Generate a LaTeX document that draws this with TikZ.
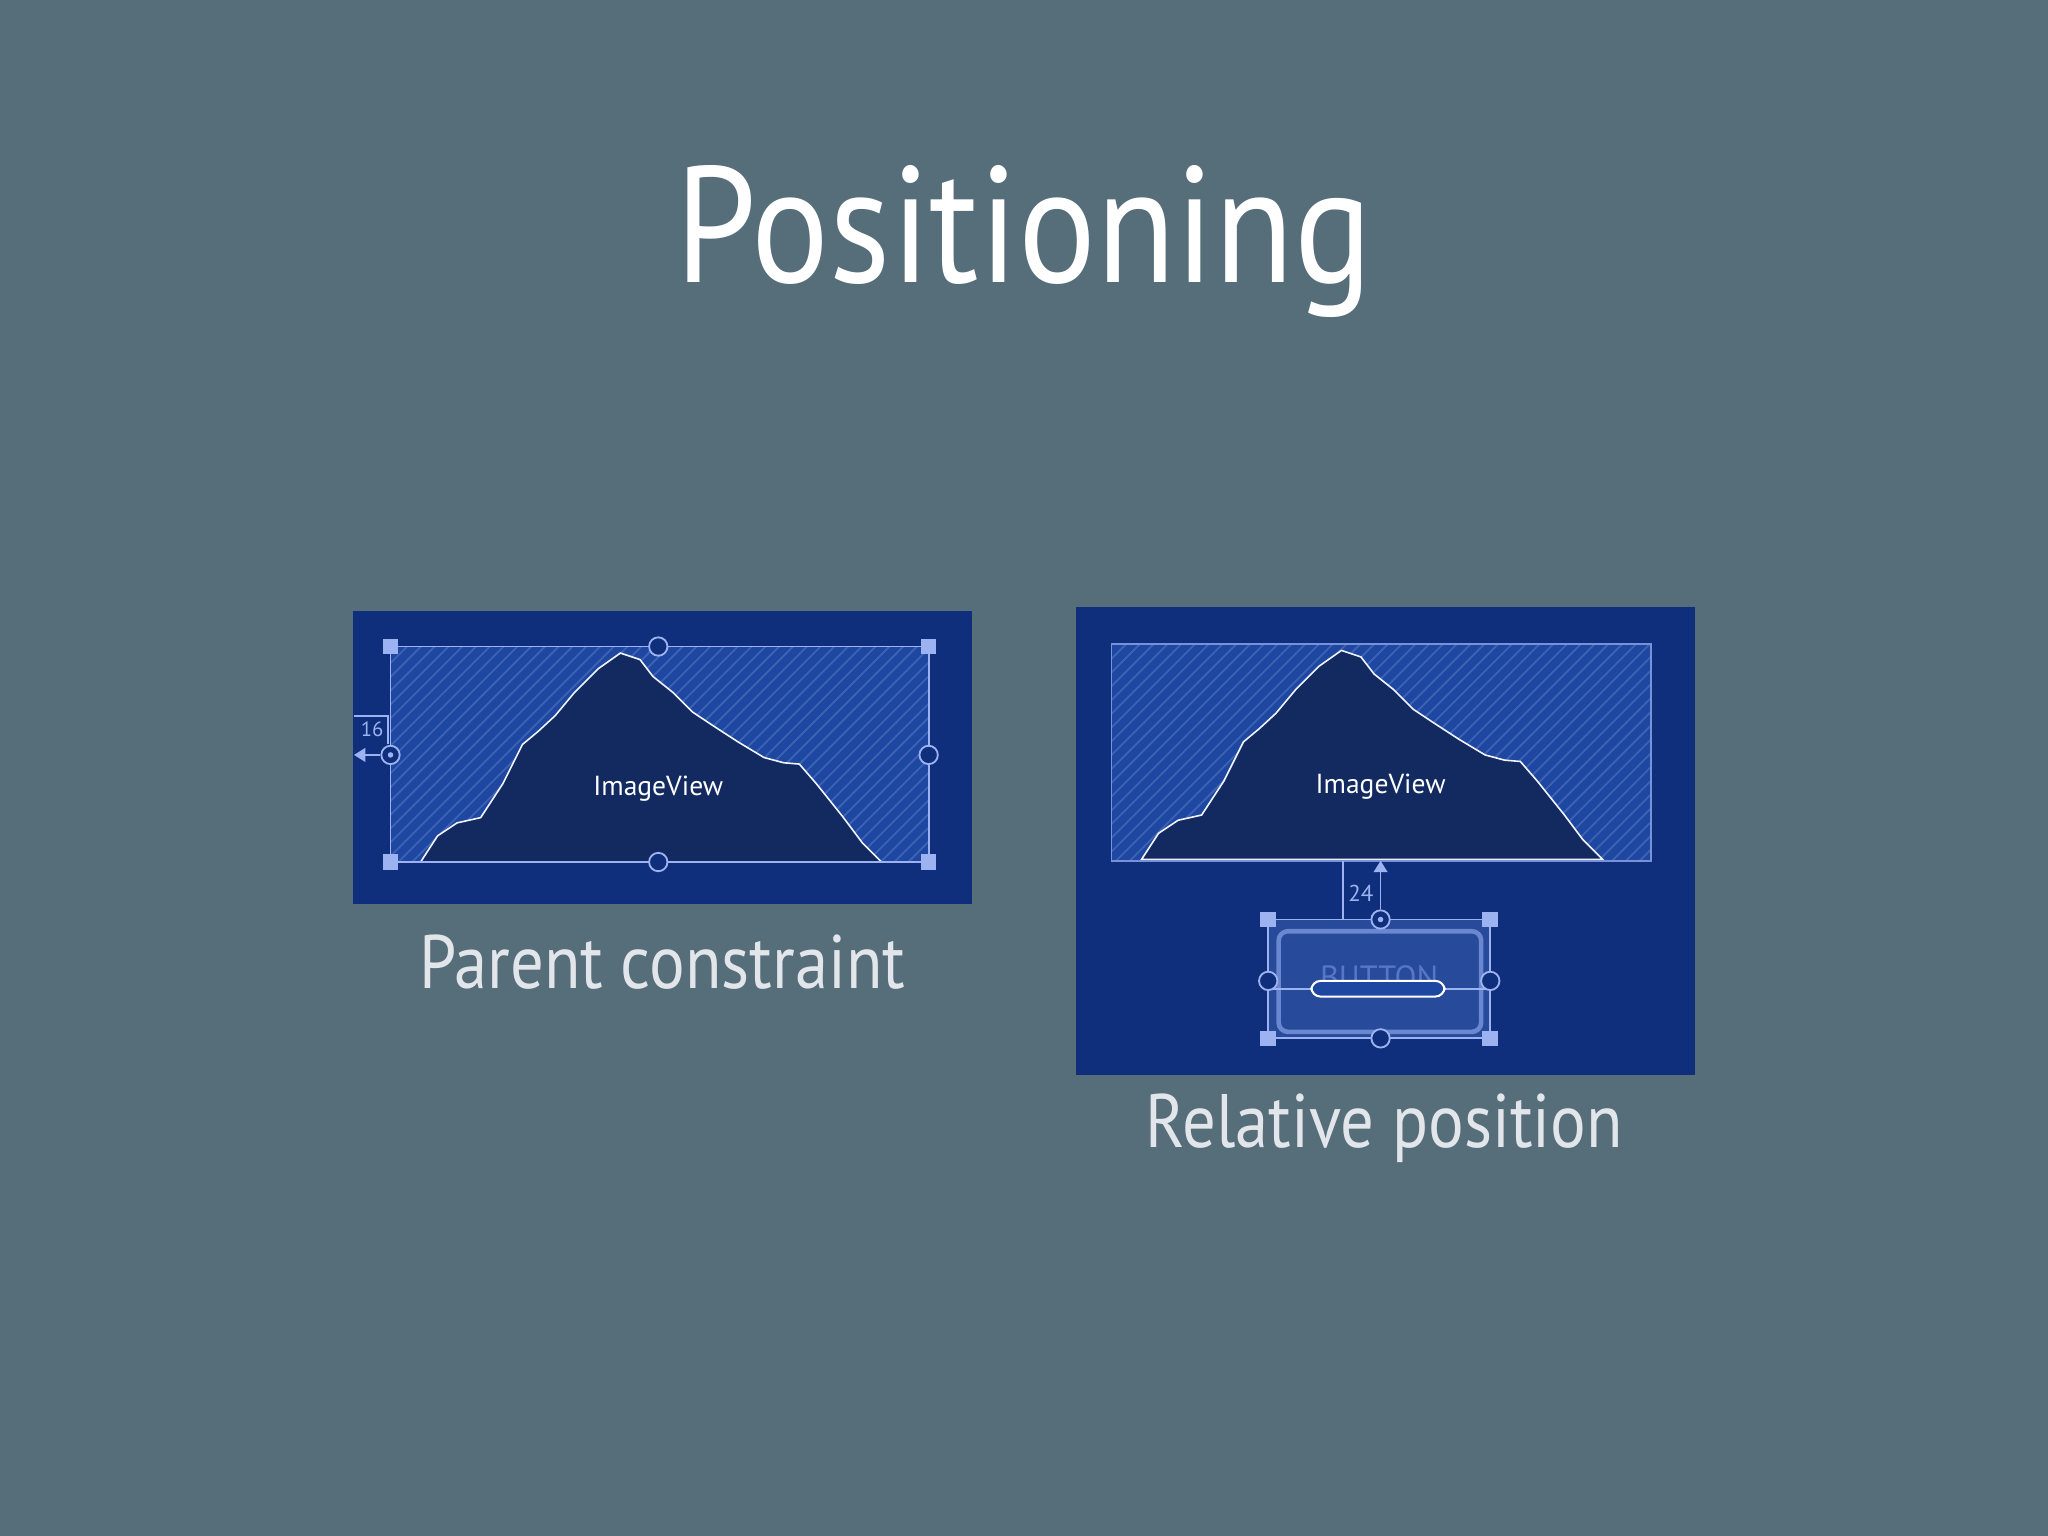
\documentclass[tikz,border=0pt]{standalone}
\usepackage{fontspec}
\setmainfont{PT Sans}
\usetikzlibrary{patterns,arrows.meta}
\definecolor{bg}{HTML}{566D7A}
\definecolor{panel}{HTML}{0F2F7C}
\definecolor{inner}{HTML}{1D47A0}
\definecolor{mount}{HTML}{132A60}
\definecolor{sel}{HTML}{9DB2F0}
\definecolor{cap}{HTML}{E2E6EA}
\tikzset{
 hnd/.style={fill=sel,draw=none,minimum size=3.4pt,inner sep=0pt},
 crc/.style={circle,draw=sel,fill=panel,line width=0.4pt,minimum size=4pt,inner sep=0pt},
 selline/.style={draw=sel,line width=0.4pt},
 mtn/.style={fill=mount,draw=white!85!sel,line width=0.35pt},
 iv/.style={text=white,font=\fontsize{6}{6}\selectfont},
 capt/.style={text=cap,font=\fontsize{16.5}{16.5}\selectfont,xscale=0.88}
}
\newcommand{\mountainpath}{(322,660) -- (335,640) -- (350,630) -- (368,626) -- (385,600) -- (400,570) -- (412,560) -- (425,548) -- (440,530) -- (458,512) -- (475,500) -- (490,505) -- (500,518) -- (515,530) -- (530,545) -- (545,555) -- (565,568) -- (585,580) -- (600,584) -- (612,585) -- (625,600) -- (645,625) -- (660,645) -- (675,660) -- cycle}
\begin{document}
\begin{tikzpicture}[x=0.01cm,y=-0.01cm]
\fill[bg] (0,0) rectangle (1568,1176);
\node[text=white,font=\fontsize{36}{36}\selectfont,xscale=0.88] (title) at (784,185) {Positioning};
% left panel
\fill[panel] (270,468) rectangle (744,692);
\fill[inner] (299,495) rectangle (711,660);
\fill[pattern=north east lines,pattern color=sel!25!inner] (299,495) rectangle (711,660);
\draw[mtn] \mountainpath;
\node[iv] (iv1) at (504,604) {ImageView};
\draw[selline] (299,495) rectangle (711,660);
\foreach \p/\n in {{(299,495)}/a,{(711,495)}/b,{(299,660)}/c,{(711,660)}/d}{\node[hnd] (L\n) at \p {};}
\node[crc] (lt) at (504,495) {}; \node[crc] (lb) at (504,660) {};
\node[crc] (ll) at (299,578) {}; \node[crc] (lr) at (711,578) {};
\fill[sel] (ll) circle (0.6pt);
\coordinate (lp) at (271,578);
\draw[selline,-{Triangle[length=2.5pt,width=3pt]}] (ll) -- (lp);
\draw[selline] (271,548) -- (297,548) -- (297,570);
\node[text=sel,font=\fontsize{4.5}{4.5}\selectfont] (l16) at (285,558) {16};
\node[capt] (c1) at (507,737) {Parent constraint};
% right panel
\fill[panel] (824,465) rectangle (1298,823);
\fill[inner] (851,493) rectangle (1264,659);
\fill[pattern=north east lines,pattern color=sel!25!inner] (851,493) rectangle (1264,659);
\begin{scope}[shift={(552,-2)}]
\draw[mtn] \mountainpath;
\end{scope}
\draw[draw=sel!70!inner,line width=0.4pt] (851,493) rectangle (1264,659);
\node[iv] (iv2) at (1057,602) {ImageView};
% button
\fill[inner!80!sel,opacity=0.6] (971,704) rectangle (1141,795);
\draw[draw=sel!60!inner,line width=1pt,rounded corners=2pt] (979,713) rectangle (1134,790);
\node[text=sel!45!inner,font=\fontsize{7}{7}\selectfont] (btn) at (1056,748) {BUTTON};
\draw[selline] (971,704) rectangle (1141,795);
\draw[selline] (971,757) -- (1141,757);
\draw[draw=white,line width=0.45pt,fill=inner,rounded corners=2pt] (1004,751) rectangle (1106,763);
\foreach \p/\n in {{(971,704)}/a,{(1141,704)}/b,{(971,795)}/c,{(1141,795)}/d}{\node[hnd] (R\n) at \p {};}
\node[crc] (rt) at (1057,704) {}; \node[crc] (rb) at (1057,795) {};
\node[crc] (rl) at (971,751) {}; \node[crc] (rr) at (1141,751) {};
\fill[sel] (rt) circle (0.6pt);
\coordinate (rp) at (1057,659);
\draw[selline,-{Triangle[length=2.5pt,width=3pt]}] (rt) -- (rp);
\draw[selline] (1028,659) -- (1028,704);
\node[text=sel,font=\fontsize{5}{5}\selectfont] (r24) at (1042,684) {24};
\node[capt] (c2) at (1060,864) {Relative position};
\end{tikzpicture}
\end{document}
